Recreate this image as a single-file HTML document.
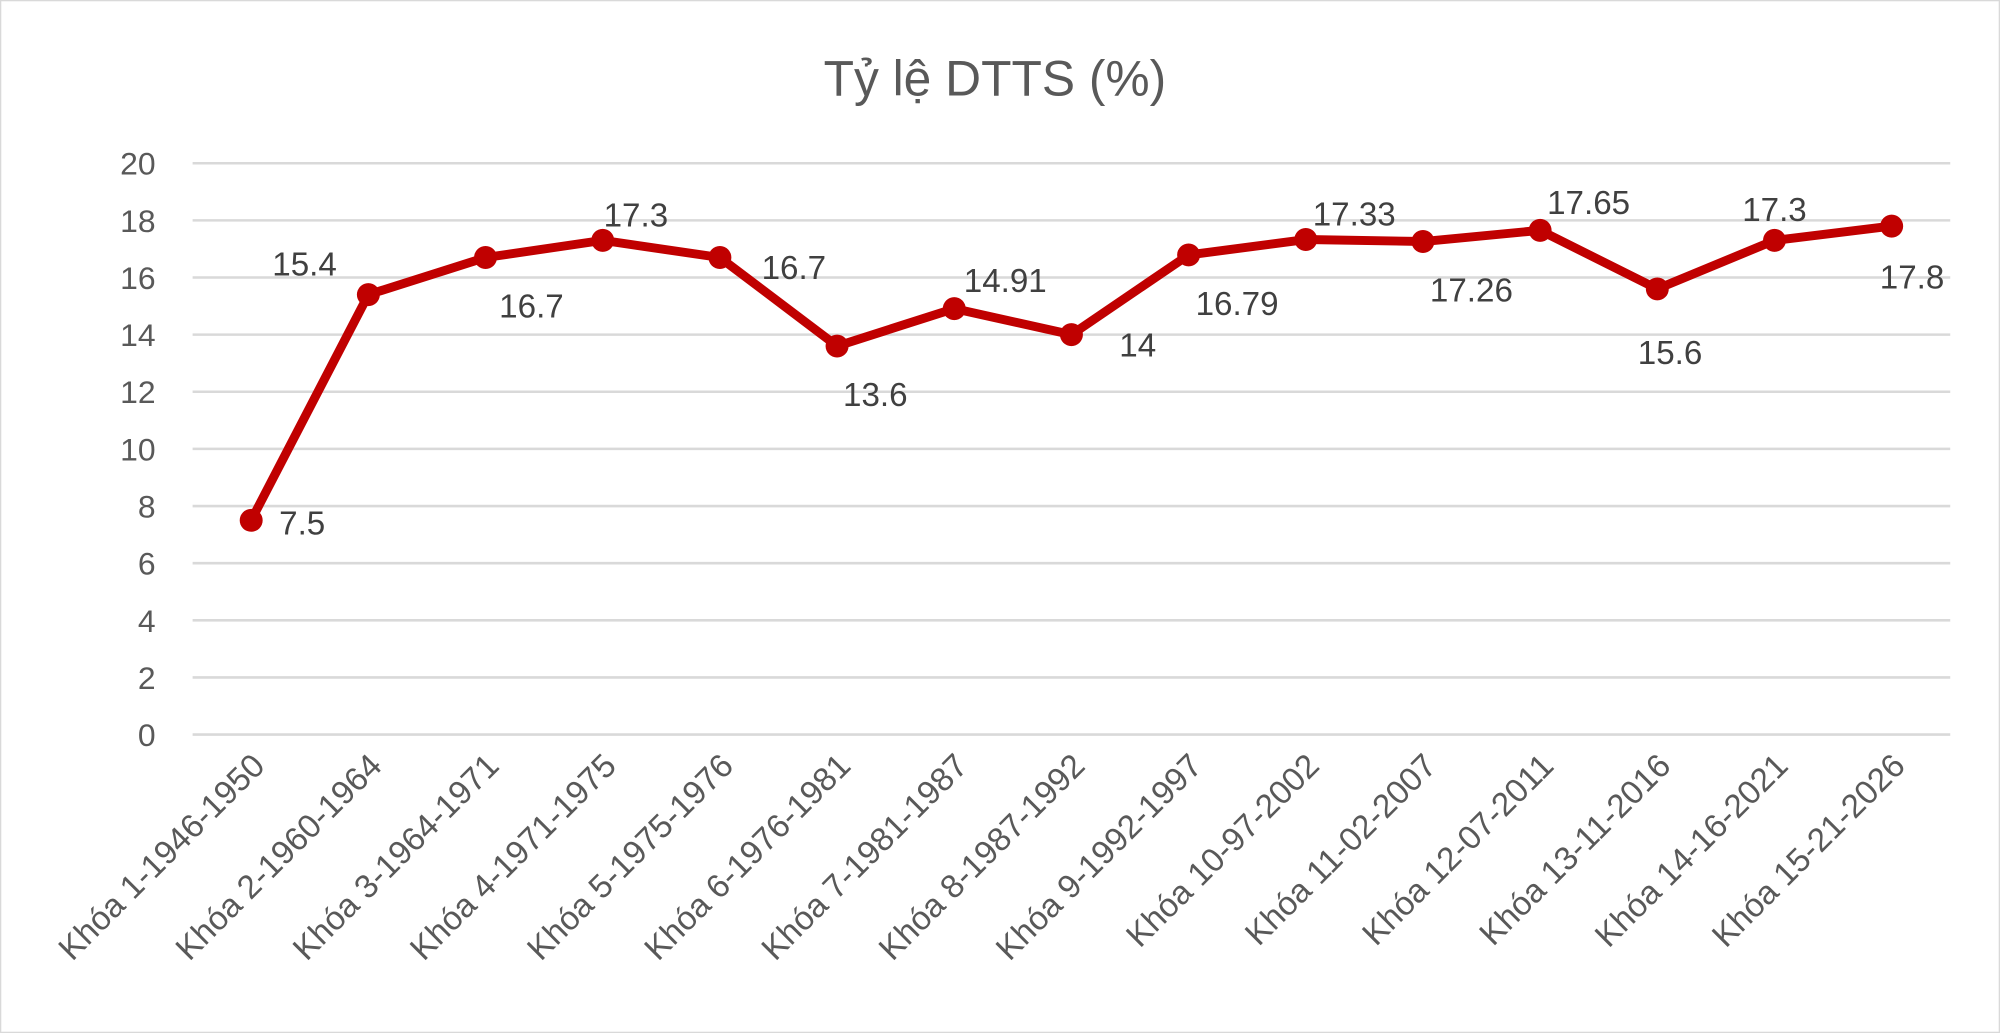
<!DOCTYPE html>
<html><head><meta charset="utf-8"><style>
html,body{margin:0;padding:0;background:#fff}
svg{display:block;font-family:"Liberation Sans",Calibri,sans-serif}
</style></head><body>
<svg id="chart" width="2000" height="1033" viewBox="0 0 1568 810" preserveAspectRatio="none">
<rect x="0.5" y="0.5" width="1567" height="809" fill="#fff" stroke="#d9d9d9"/>
<text x="780" y="75" font-size="39" fill="#595959" text-anchor="middle">Tỷ lệ DTTS (%)</text>
<g id="grid"></g><g id="yticks"></g><g id="xticks"></g><g id="series"></g><g id="labels"></g>
</svg>
<script>
const categories = ["Khóa 1-1946-1950","Khóa 2-1960-1964","Khóa 3-1964-1971","Khóa 4-1971-1975","Khóa 5-1975-1976","Khóa 6-1976-1981","Khóa 7-1981-1987","Khóa 8-1987-1992","Khóa 9-1992-1997","Khóa 10-97-2002","Khóa 11-02-2007","Khóa 12-07-2011","Khóa 13-11-2016","Khóa 14-16-2021","Khóa 15-21-2026"];
const values = [7.5,15.4,16.7,17.3,16.7,13.6,14.91,14,16.79,17.33,17.26,17.65,15.6,17.3,17.8];
const valueLabels = ["7.5","15.4","16.7","17.3","16.7","13.6","14.91","14","16.79","17.33","17.26","17.65","15.6","17.3","17.8"];
const yTicks = [0,2,4,6,8,10,12,14,16,18,20];
const labelOffsets = [[40,2],[-50,-24],[36,38],[26,-20],[58,8],[30,38],[40,-22],[52,8],[38,38],[38,-20],[38,38],[38,-22],[10,50],[0,-24],[16,40]];
const NS="http://www.w3.org/2000/svg";
const L=151,R=1529,T=128,B=576,yMax=20;
const step=(R-L)/categories.length;
const xs=i=>L+step*(i+0.5);
const ys=v=>B-(v/yMax)*(B-T);
function mk(tag,attrs,parent,text){const e=document.createElementNS(NS,tag);for(const k in attrs)e.setAttribute(k,attrs[k]);if(text!==undefined)e.textContent=text;document.getElementById(parent).appendChild(e);return e;}
yTicks.forEach(t=>{
 const g=mk("line",{x1:L,x2:R,y1:ys(t),y2:ys(t),stroke:"#d9d9d9","stroke-width":2},"grid");
 
 
 const tx=mk("text",{x:122,y:ys(t)+9,"font-size":25,fill:"#595959","text-anchor":"end"},"yticks",String(t));
 
 
});
categories.forEach((c,i)=>{
 const x=xs(i)+12,y=602;
 const tx=mk("text",{x:x,y:y,"font-size":26,fill:"#595959","text-anchor":"end",transform:`rotate(-45 ${x} ${y})`},"xticks",c);
 
 
});
const pts=values.map((v,i)=>xs(i)+","+ys(v)).join(" ");
const pl=mk("polyline",{points:pts,fill:"none",stroke:"#c00000","stroke-width":7,"stroke-linejoin":"round"},"series");


values.forEach((v,i)=>{
 const c=mk("circle",{cx:xs(i),cy:ys(v),r:9,fill:"#c00000"},"series");
 
 
 const o=labelOffsets[i];
 const t=mk("text",{x:xs(i)+o[0],y:ys(v)+o[1]+9,"font-size":26,fill:"#404040","text-anchor":"middle"},"labels",valueLabels[i]);
 
 
});
</script>
</body></html>
